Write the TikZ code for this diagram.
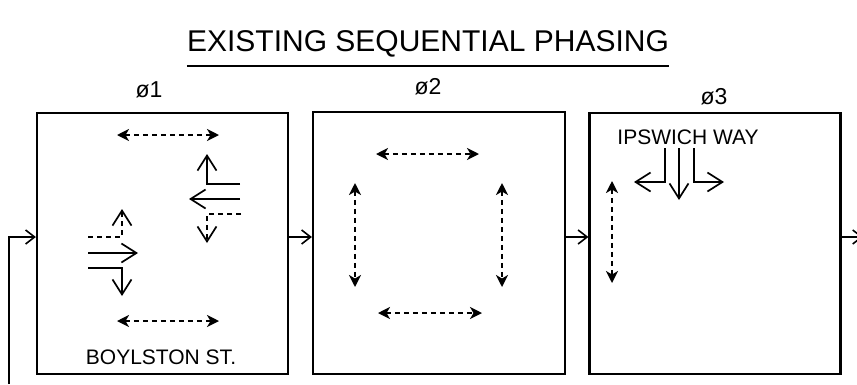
\documentclass[tikz,border=0pt]{standalone}
\usepackage{fontspec}
\setmainfont{Liberation Sans}
\usetikzlibrary{arrows.meta}

\tikzset{
  phasebox/.style={draw, line width=2.2pt, minimum width=251pt, minimum height=261pt, inner sep=0pt},
  conn/.style={line width=1.6pt, -{Straight Barb[length=9pt,width=14pt,line width=1.6pt]}},
  ped/.style={line width=2.1pt, dash pattern=on 5pt off 4pt,
    {Stealth[length=12pt,width=12pt,inset=3.5pt]}-{Stealth[length=12pt,width=12pt,inset=3.5pt]}},
  move/.style={line width=1.7pt, -{Straight Barb[length=15pt,width=19pt,line width=1.7pt]}},
  permissive/.style={move, dash pattern=on 5pt off 4pt},
  lbl/.style={inner sep=0pt, font=\fontsize{21}{25}\selectfont},
}

\begin{document}
\begin{tikzpicture}[x=1pt, y=-1pt]
  \path[use as bounding box] (0,0) rectangle (857,384);

  % heading
  \node[inner sep=0pt, font=\fontsize{30}{36}\selectfont] (title) at (428,44) {EXISTING SEQUENTIAL PHASING};
  \draw[line width=2.6pt] (title.south west |- 0,66) -- (title.south east |- 0,66);

  % phase boxes
  \node[phasebox] (p1) at (162.5,243.5) {};
  \node[phasebox, minimum width=252pt, minimum height=262pt] (p2) at (439,243) {};
  \node[phasebox] (p3) at (715,243.5) {};

  \node[lbl, font=\fontsize{23}{27}\selectfont] (l1) at (149,90) {ø1};
  \node[lbl, font=\fontsize{23}{27}\selectfont] (l2) at (428,87) {ø2};
  \node[lbl, font=\fontsize{23}{27}\selectfont] (l3) at (714,97) {ø3};

  % sequence connectors
  \coordinate (lvl) at (0,237);
  \coordinate (back) at (9,384);
  \coordinate (exit) at (863,237);
  \draw[conn] (back) |- (p1.west |- lvl);
  \draw[conn] (p1.east |- lvl) -- (p2.west |- lvl);
  \draw[conn] (p2.east |- lvl) -- (p3.west |- lvl);
  \draw[conn] (p3.east |- lvl) -- (exit);

  % phase 1: Boylston St.
  \draw[ped] (117,135) -- (219,135);
  \draw[ped] (117,321) -- (219,321);
  \node[lbl] (boyl) at (161,357) {BOYLSTON ST.};
  % westbound
  \draw[move] (240,199) -- (189,199);
  \draw[move] (240,184) -- (207,184) -- (207,154);
  \draw[permissive] (241,214) -- (207,214) -- (207,243);
  % eastbound
  \draw[move] (88,253) -- (138,253);
  \draw[move] (88,268) -- (122,268) -- (122,296);
  \draw[permissive] (88,237) -- (122,237) -- (122,209);

  % phase 2: pedestrians
  \draw[ped] (376,154) -- (479,154);
  \draw[ped] (378,313) -- (482,313);
  \draw[ped] (355,183) -- (355,287);
  \draw[ped] (502,183) -- (502,287);

  % phase 3: Ipswich Way
  \node[lbl] (ipsw) at (688,137) {IPSWICH WAY};
  \draw[ped] (612,181) -- (612,283);
  \draw[move] (679,148) -- (679,200);
  \draw[move] (665,148) -- (665,182) -- (634,182);
  \draw[move] (694,148) -- (694,182) -- (724,182);
\end{tikzpicture}
\end{document}
